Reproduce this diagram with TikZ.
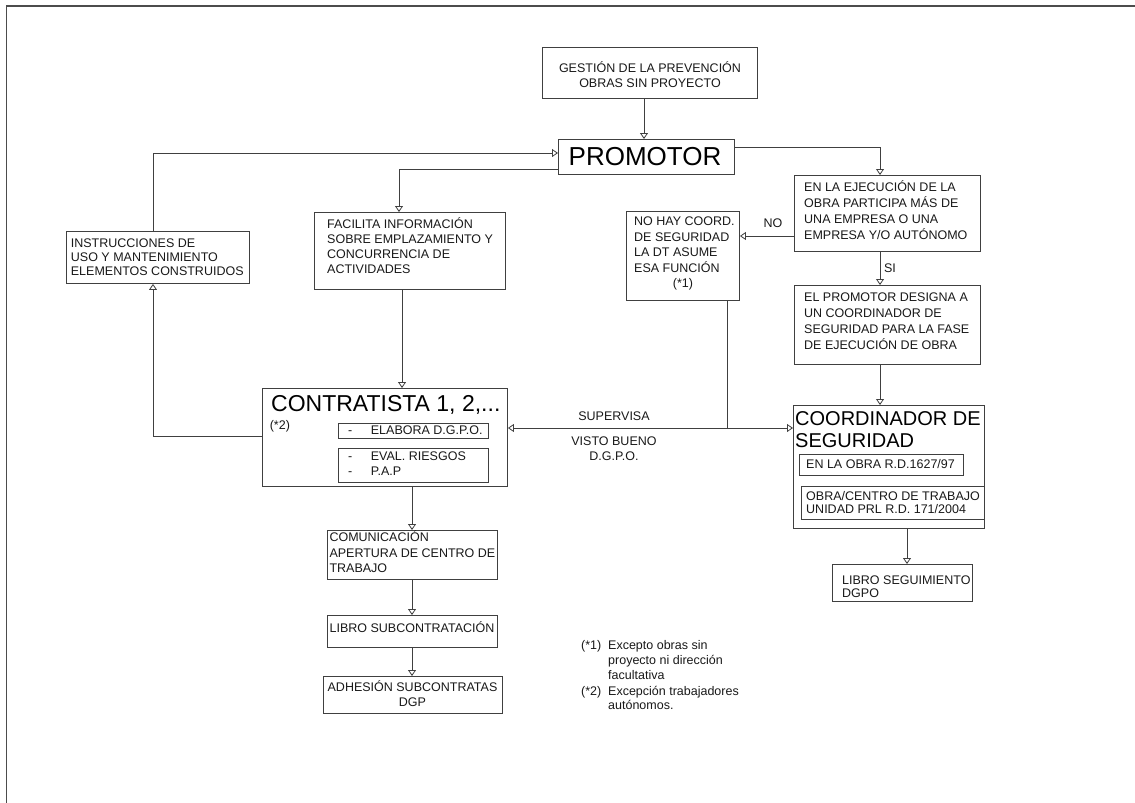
\documentclass[tikz,border=0pt]{standalone}
\usepackage{fontspec}
\setmainfont{Liberation Sans}
\usetikzlibrary{arrows.meta}
\newcommand\fsz[1]{\fontsize{12.5}{#1}\selectfont}
\begin{document}
\begin{tikzpicture}[x=1pt,y=-1pt,
  box/.style={draw=black!75, line width=0.9pt, inner sep=0pt, anchor=north west},
  txt/.style={inner sep=0pt, align=left, anchor=base west, font=\fsz{15}, text=black!90},
  ctxt/.style={inner sep=0pt, align=center, anchor=base, font=\fsz{15}, text=black!90},
  arr/.style={draw=black!75, line width=0.8pt, -{Triangle[open,length=6pt,width=8pt]}},
  ln/.style={draw=black!75, line width=0.8pt}]
\useasboundingbox (0,0) rectangle (1135,803);
\fill[white] (0,0) rectangle (1135,803);
\draw[line width=1.6pt, draw=black!70] (6.5,803) -- (6.5,5.8) -- (1135,5.8);

% boxes
\node[box, minimum width=215, minimum height=51] (gest) at (542,47) {};
\node[box, minimum width=176, minimum height=35] (prom) at (558,139) {};
\node[box, minimum width=183, minimum height=52] (instr) at (66,231) {};
\node[box, minimum width=191, minimum height=77] (fac) at (314,212) {};
\node[box, minimum width=113, minimum height=89] (nohay) at (626,211) {};
\node[box, minimum width=186, minimum height=76] (enla) at (794,175) {};
\node[box, minimum width=186, minimum height=79] (elprom) at (794,285) {};
\node[box, minimum width=245, minimum height=98] (contr) at (262,388) {};
\node[box, minimum width=150, minimum height=15] (elab) at (337.5,423) {};
\node[box, minimum width=150, minimum height=34] (eval) at (337.5,448) {};
\node[box, minimum width=191, minimum height=123] (coord) at (793,405) {};
\node[box, minimum width=164, minimum height=21] (enobra) at (799,454) {};
\node[box, minimum width=183, minimum height=33] (obracen) at (801,486) {};
\node[box, minimum width=140, minimum height=37] (libseg) at (832,564) {};
\node[box, minimum width=170, minimum height=49] (comun) at (327,530) {};
\node[box, minimum width=170, minimum height=32] (libsub) at (327,615) {};
\node[box, minimum width=179, minimum height=37] (adh) at (323,676) {};

% texts (anchor = baseline of the last line)
\node[ctxt] (gestT) at (650,87.5) {GESTIÓN DE LA PREVENCIÓN\\OBRAS SIN PROYECTO};
\node[inner sep=0pt, anchor=base, font=\fontsize{26}{30}\selectfont] (promT) at (645,165.5) {PROMOTOR};
\node[txt, font=\fsz{14}] (instrT) at (70.7,275.5) {INSTRUCCIONES DE\\USO Y MANTENIMIENTO\\ELEMENTOS CONSTRUIDOS};
\node[txt] (facT) at (327,273.5) {FACILITA INFORMACIÓN\\SOBRE EMPLAZAMIENTO Y\\CONCURRENCIA DE\\ACTIVIDADES};
\node[txt, font=\fsz{15.5}] (nohayT) at (634,272) {NO HAY COORD.\\DE SEGURIDAD\\LA DT ASUME\\ESA FUNCIÓN};
\node[ctxt] (nohayS) at (683,287.5) {(*1)};
\node[ctxt] (noL) at (773,227.5) {NO};
\node[txt, font=\fsz{16}] (enlaT) at (804,239.5) {EN LA EJECUCIÓN DE LA\\OBRA PARTICIPA MÁS DE\\UNA EMPRESA O UNA\\EMPRESA Y/O AUTÓNOMO};
\node[ctxt] (siL) at (890,272.5) {SI};
\node[txt, font=\fsz{16}] (elpromT) at (804,349.5) {EL PROMOTOR DESIGNA A\\UN COORDINADOR DE\\SEGURIDAD PARA LA FASE\\DE EJECUCIÓN DE OBRA};
\node[inner sep=0pt, anchor=base west, font=\fontsize{23}{27}\selectfont] (contrT) at (271,411.5) {CONTRATISTA 1, 2,...};
\node[txt] (star2) at (269.6,429.5) {(*2)};
\node[txt] (elabD) at (348,434.5) {-};
\node[txt] (elabT) at (370.7,434.5) {ELABORA D.G.P.O.};
\node[txt, font=\fsz{14.5}] (evalD) at (348,475) {-\\-};
\node[txt, font=\fsz{14.5}] (evalT) at (370.7,475) {EVAL. RIESGOS\\P.A.P};
\node[ctxt] (supT) at (614,420.5) {SUPERVISA};
\node[ctxt] (vbT) at (614,460.5) {VISTO BUENO\\D.G.P.O.};
\node[inner sep=0pt, align=left, anchor=base west, font=\fontsize{20}{22.5}\selectfont] (coordT) at (795,447.5) {COORDINADOR DE\\SEGURIDAD};
\node[txt] (enobraT) at (806,468.5) {EN LA OBRA R.D.1627/97};
\node[txt, font=\fsz{13.3}] (obracenT) at (806,513.3) {OBRA/CENTRO DE TRABAJO\\UNIDAD PRL R.D. 171/2004};
\node[txt, font=\fsz{13}] (libsegT) at (842,597.3) {LIBRO SEGUIMIENTO\\DGPO};
\node[txt, font=\fsz{15.3}] (comunT) at (329.3,572.3) {COMUNICACIÓN\\APERTURA DE CENTRO DE\\TRABAJO};
\node[ctxt] (libsubT) at (412,632.7) {LIBRO SUBCONTRATACIÓN};
\node[ctxt, font=\fsz{14.3}] (adhT) at (412.5,706) {ADHESIÓN SUBCONTRATAS\\DGP};
\node[txt] (fn1a) at (581,649.5) {(*1)};
\node[txt] (fn1b) at (608,679.5) {Excepto obras sin\\proyecto ni dirección\\facultativa};
\node[txt] (fn2a) at (581,695.5) {(*2)};
\node[txt, font=\fsz{14}] (fn2b) at (608,709.5) {Excepción trabajadores\\autónomos.};

% connector coordinates
\coordinate (kG) at (644,0);
\coordinate (k1) at (880,147);
\coordinate (k2) at (399,169);
\coordinate (k3) at (153,153);
\coordinate (k4) at (153,436);
\coordinate (k5) at (402,0);
\coordinate (k6) at (0,236);
\coordinate (j) at (727,428);
\coordinate (k7) at (412,0);
\coordinate (k8) at (907,0);

% connectors
\draw[arr] (gest.south -| kG) -- (prom.north -| kG);
\draw[arr] (k1 -| prom.east) -- (k1) -- (enla.north -| k1);
\draw[arr] (k2 -| prom.west) -- (k2) -- (fac.north -| k2);
\draw[arr] (instr.north -| k3) -- (k3) -- (k3 -| prom.west);
\draw[arr] (k4 -| contr.west) -- (k4) -- (instr.south -| k4);
\draw[arr] (fac.south -| k5) -- (contr.north -| k5);
\draw[arr] (enla.west |- k6) -- (nohay.east |- k6);
\draw[arr] (enla.south -| k1) -- (elprom.north -| k1);
\draw[arr] (elprom.south -| k1) -- (coord.north -| k1);
\draw[ln] (nohay.south -| j) -- (j);
\draw[arr] (j) -- (contr.east |- j);
\draw[arr] (j) -- (coord.west |- j);
\draw[arr] (contr.south -| k7) -- (comun.north -| k7);
\draw[arr] (comun.south -| k7) -- (libsub.north -| k7);
\draw[arr] (libsub.south -| k7) -- (adh.north -| k7);
\draw[arr] (coord.south -| k8) -- (libseg.north -| k8);
\end{tikzpicture}
\end{document}
